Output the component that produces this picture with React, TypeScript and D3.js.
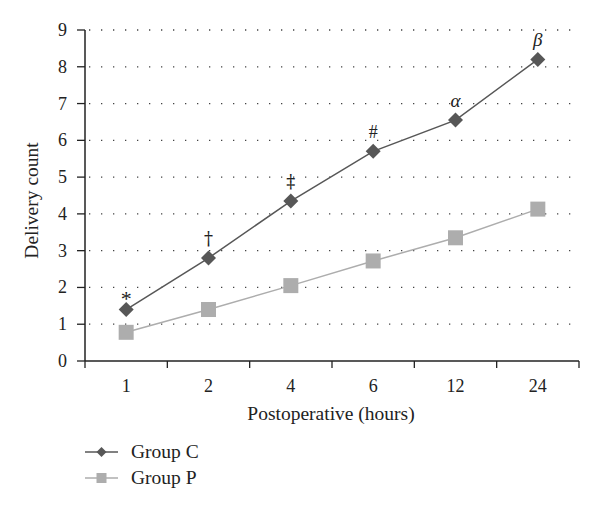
import * as d3 from "d3";

const hours = ["1", "2", "4", "6", "12", "24"];
const groupC = [1.4, 2.8, 4.35, 5.7, 6.55, 8.2];
const groupP = [0.78, 1.4, 2.05, 2.72, 3.35, 4.13];
const marks = ["*", "†", "‡", "#", "α", "β"];
const yTicks = [0, 1, 2, 3, 4, 5, 6, 7, 8, 9];

const W = 600;
const H = 511;
const left = 85;
const right = 579;
const top = 30;
const bottom = 361;
const font = "'Liberation Serif', 'DejaVu Serif', serif";
const darkC = "#575757";
const lightP = "#adadad";

export default function App() {
  const x = d3.scaleBand<string>().domain(hours).range([left, right]);
  const y = d3.scaleLinear().domain([0, 9]).range([bottom, top]);
  const cx = (h: string) => x(h)! + x.bandwidth() / 2;

  const line = d3
    .line<number>()
    .x((_, i) => cx(hours[i]))
    .y((d) => y(d));

  const diamond = (px: number, py: number, r: number) =>
    `M${px},${py - r}L${px + r},${py}L${px},${py + r}L${px - r},${py}Z`;

  return (
    <svg
      width={W}
      height={H}
      style={{ position: "absolute", left: 0, top: 0 }}
      fontFamily={font}
    >
      <rect width={W} height={H} fill="#fff" />
      {/* gridlines */}
      {yTicks
        .filter((t) => t > 0)
        .map((t) => (
          <line
            key={"g" + t}
            x1={left + 4}
            x2={right}
            y1={y(t)}
            y2={y(t)}
            stroke="#444"
            strokeWidth={1.3}
            strokeDasharray="1.3 10.7"
          />
        ))}
      {/* y axis */}
      <line x1={left} x2={left} y1={top} y2={bottom} stroke="#222" strokeWidth={1.5} />
      {yTicks.map((t) => (
        <g key={"y" + t}>
          <line x1={left - 8} x2={left} y1={y(t)} y2={y(t)} stroke="#222" strokeWidth={1.3} />
          <text x={67} y={y(t) + 6} fontSize={18} textAnchor="end" fill="#222">
            {t}
          </text>
        </g>
      ))}
      {/* x axis */}
      <line x1={left} x2={right} y1={bottom} y2={bottom} stroke="#222" strokeWidth={1.5} />
      {[...hours.map((h) => x(h)!), right].map((px, i) => (
        <line key={"xt" + i} x1={px} x2={px} y1={bottom} y2={bottom + 7} stroke="#222" strokeWidth={1.3} />
      ))}
      {hours.map((h) => (
        <text key={"xl" + h} x={cx(h)} y={bottom + 31} fontSize={18} textAnchor="middle" fill="#222">
          {h}
        </text>
      ))}
      <text x={331} y={420} fontSize={19.5} textAnchor="middle" fill="#222">
        Postoperative (hours)
      </text>
      <text
        transform={`translate(38,${(top + bottom) / 2 + 5}) rotate(-90)`}
        fontSize={19.5}
        textAnchor="middle"
        fill="#222"
      >
        Delivery count
      </text>
      {/* series */}
      <path d={line(groupP)!} fill="none" stroke={lightP} strokeWidth={1.5} />
      <path d={line(groupC)!} fill="none" stroke={darkC} strokeWidth={1.5} />
      {groupP.map((v, i) => (
        <rect key={"p" + i} x={cx(hours[i]) - 7.5} y={y(v) - 7.5} width={15} height={15} fill={lightP} />
      ))}
      {groupC.map((v, i) => (
        <path key={"c" + i} d={diamond(cx(hours[i]), y(v), 7.5)} fill={darkC} />
      ))}
      {groupC.map((v, i) => (
        <text
          key={"m" + i}
          x={cx(hours[i])}
          y={i === 0 ? y(v) - 4 : y(v) - 13}
          fontSize={i === 0 ? 22 : i >= 4 ? 19 : 18}
          fontFamily={i === 1 || i === 2 ? "'DejaVu Serif', serif" : font}
          fontStyle={i >= 4 ? "italic" : "normal"}
          textAnchor="middle"
          style={{ fill: "#222" }}
        >
          {marks[i]}
        </text>
      ))}
      {/* legend */}
      <line x1={85} x2={118} y1={452} y2={452} stroke={darkC} strokeWidth={1.5} />
      <path d={diamond(101.5, 452, 5)} fill={darkC} />
      <text x={131} y={458} fontSize={19.5} fill="#222">
        Group C
      </text>
      <line x1={85} x2={118} y1={478} y2={478} stroke={lightP} strokeWidth={1.5} />
      <rect x={96.5} y={473} width={10} height={10} fill={lightP} />
      <text x={131} y={484} fontSize={19.5} fill="#222">
        Group P
      </text>
    </svg>
  );
}
